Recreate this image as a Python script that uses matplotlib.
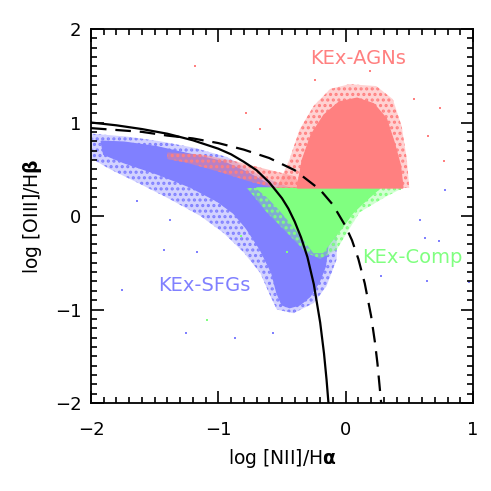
import matplotlib
matplotlib.use("Agg")
import matplotlib.pyplot as plt
from matplotlib.ticker import MultipleLocator

plt.rcParams["font.family"] = ["DejaVu Sans"]
plt.rcParams["hatch.linewidth"] = 1.5

BLUE = "#8080ff"
GREEN = "#80ff80"
RED = "#ff8080"

# demarcation curves (solid = Kauffmann, dashed = Kewley)
ka_x = [-2.0, -1.8, -1.6, -1.4, -1.2, -1.0, -0.9, -0.8, -0.7, -0.6, -0.5, -0.45,
        -0.4, -0.35, -0.3, -0.25, -0.2, -0.17, -0.15, -0.135]
ka_y = [1.00, 0.97, 0.93, 0.88, 0.81, 0.72, 0.66, 0.58, 0.49, 0.36, 0.19, 0.08,
        -0.06, -0.23, -0.44, -0.73, -1.14, -1.47, -1.75, -2.0]
ke_x = [-2.0, -1.8, -1.6, -1.4, -1.2, -1.0, -0.8, -0.6, -0.4, -0.2, -0.1, 0.0,
        0.05, 0.1, 0.15, 0.2, 0.23, 0.25, 0.279]
ke_y = [0.94, 0.92, 0.90, 0.86, 0.83, 0.78, 0.71, 0.62, 0.49, 0.28, 0.12, -0.11,
        -0.26, -0.46, -0.72, -1.07, -1.35, -1.58, -2.0]

# outlines of the point clouds: sparse halo and dense core
sfg_halo_x = [-1.99, -1.72, -1.46, -1.19, -0.93, -0.67, -0.41, -0.20, -0.07, -0.07,
              -0.15, -0.25, -0.41, -0.54, -0.59, -0.67, -0.80, -0.96, -1.14, -1.38,
              -1.64, -1.85, -1.99]
sfg_halo_y = [0.88, 0.85, 0.80, 0.73, 0.63, 0.43, 0.29, 0.11, -0.18, -0.46,
              -0.75, -0.93, -1.04, -1.00, -0.86, -0.61, -0.39, -0.18, 0.00, 0.18,
              0.36, 0.50, 0.61]
sfg_core_x = [-1.92, -1.74, -1.48, -1.22, -0.96, -0.78, -0.62, -0.44, -0.28, -0.18,
              -0.14, -0.16, -0.21, -0.28, -0.36, -0.44, -0.50, -0.54, -0.58, -0.67,
              -0.78, -0.88, -1.01, -1.22, -1.48, -1.74, -1.90]
sfg_core_y = [0.80, 0.79, 0.74, 0.66, 0.58, 0.47, 0.35, 0.22, 0.08, -0.10,
              -0.32, -0.54, -0.71, -0.86, -0.95, -0.98, -0.95, -0.82, -0.61, -0.36,
              -0.13, 0.03, 0.16, 0.31, 0.45, 0.57, 0.66]

comp_halo_x = [-0.78, 0.45, 0.32, 0.11, 0.01, -0.07, -0.20, -0.31, -0.46, -0.62, -0.72]
comp_halo_y = [0.30, 0.30, 0.21, 0.04, -0.18, -0.36, -0.46, -0.39, -0.18, 0.04, 0.21]
comp_core_x = [-0.70, 0.27, 0.17, 0.06, -0.02, -0.10, -0.18, -0.25, -0.33, -0.41, -0.52, -0.62]
comp_core_y = [0.30, 0.30, 0.18, 0.04, -0.11, -0.25, -0.39, -0.39, -0.25, -0.11, 0.07, 0.21]

agn_halo_x = [-0.54, -0.44, -0.36, -0.25, -0.12, 0.03, 0.24, 0.37, 0.44, 0.48, 0.50]
agn_halo_y = [0.30, 0.61, 0.93, 1.18, 1.36, 1.41, 1.39, 1.25, 0.96, 0.61, 0.30]
agn_core_x = [-0.38, -0.34, -0.27, -0.17, -0.05, 0.09, 0.22, 0.32, 0.38, 0.43, 0.45]
agn_core_y = [0.30, 0.60, 0.87, 1.08, 1.22, 1.26, 1.20, 1.04, 0.79, 0.54, 0.30]
agn_band_x = [-1.40, -1.14, -0.88, -0.62, -0.41, -0.31, -0.57, -0.78, -1.01, -1.25, -1.40]
agn_band_y = [0.68, 0.66, 0.59, 0.50, 0.43, 0.30, 0.30, 0.38, 0.48, 0.57, 0.61]

# isolated points
sfg_out_x = [-1.76, -1.25, -0.87, -0.57, 0.62, 0.64, 0.28, 0.78, 0.97, 0.73,
             -1.43, -1.64, -1.17, -1.38, 0.58]
sfg_out_y = [-0.79, -1.25, -1.31, -1.25, -0.23, -0.70, -0.64, 0.28, -0.71, -0.27,
             -0.36, 0.16, -0.38, -0.04, -0.04]
agn_out_x = [-1.18, -0.24, 0.74, 0.65, 0.54, -0.78, 0.77, 0.19, -0.67]
agn_out_y = [1.60, 1.46, 1.16, 0.86, 1.25, 1.10, 0.59, 1.55, 0.93]
comp_out_x = [-1.09, 0.43, -0.46, -0.82]
comp_out_y = [-1.11, 0.29, -0.39, -0.21]

fig = plt.figure(figsize=(4.91, 4.91), dpi=100)
ax = fig.add_axes([0.1853, 0.1792, 0.778, 0.7617])


def cloud(hx, hy, cx, cy, color):
    ax.fill(hx, hy, facecolor=color, alpha=0.35, linewidth=0)
    ax.fill(hx, hy, facecolor="none", edgecolor=color, linewidth=0, hatch="...")
    ax.fill(cx, cy, facecolor=color, edgecolor=color, linewidth=1.0)


cloud(sfg_halo_x, sfg_halo_y, sfg_core_x, sfg_core_y, BLUE)
ax.scatter(sfg_out_x, sfg_out_y, s=4, color=BLUE, marker="s", linewidths=0)
cloud(comp_halo_x, comp_halo_y, comp_core_x, comp_core_y, GREEN)
ax.scatter(comp_out_x, comp_out_y, s=4, color=GREEN, marker="s", linewidths=0)
ax.fill(agn_band_x, agn_band_y, facecolor=RED, alpha=0.45, linewidth=0)
ax.fill(agn_band_x, agn_band_y, facecolor="none", edgecolor=RED, linewidth=0, hatch="...")
cloud(agn_halo_x, agn_halo_y, agn_core_x, agn_core_y, RED)
ax.scatter(agn_out_x, agn_out_y, s=4, color=RED, marker="s", linewidths=0)

ax.plot(ka_x, ka_y, color="black", lw=1.6)
ax.plot(ke_x, ke_y, color="black", lw=1.6, dashes=(7, 4))

ax.text(0.1, 1.68, "KEx-AGNs", color=RED, fontsize=14, ha="center", va="center")
ax.text(0.52, -0.44, "KEx-Comp", color=GREEN, fontsize=14, ha="center", va="center")
ax.text(-1.11, -0.74, "KEx-SFGs", color=BLUE, fontsize=14, ha="center", va="center")

ax.set_xlim(-2, 1)
ax.set_ylim(-2, 2)
ax.xaxis.set_major_locator(MultipleLocator(1))
ax.xaxis.set_minor_locator(MultipleLocator(0.1))
ax.yaxis.set_major_locator(MultipleLocator(1))
ax.yaxis.set_minor_locator(MultipleLocator(0.1))
ax.tick_params(which="both", direction="in", top=True, right=True, labelsize=13, width=1.2)
ax.tick_params(which="major", length=9)
ax.tick_params(axis="x", which="major", pad=13)
ax.tick_params(axis="y", which="major", pad=7)
ax.tick_params(which="minor", length=4.5)
for s in ax.spines.values():
    s.set_linewidth(1.3)

ax.set_xlabel(r"log [NII]/H$\mathbf{\alpha}$", fontsize=13.5, labelpad=6)
ax.set_ylabel(r"log [OIII]/H$\mathbf{\beta}$", fontsize=13.5, labelpad=8)

fig.savefig("out.png", dpi=100, facecolor="white")
